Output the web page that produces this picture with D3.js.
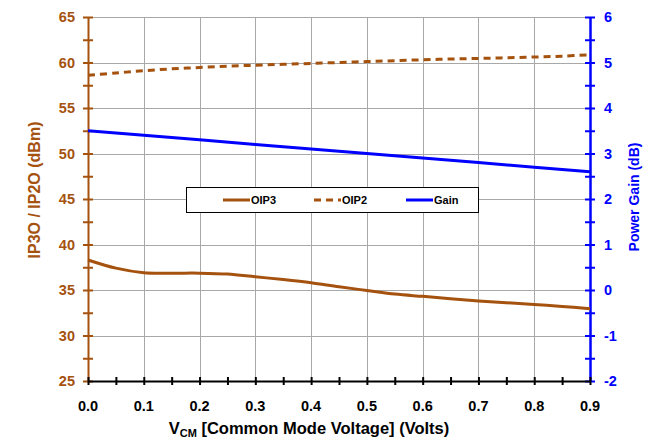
<!DOCTYPE html>
<html><head><meta charset="utf-8">
<script src="https://cdn.jsdelivr.net/npm/d3@7"></script>
<style>body{margin:0;background:#fff}svg{display:block;font-family:"Liberation Sans",Arial,sans-serif;font-weight:bold}</style>
</head><body><svg id="c" width="658" height="440"></svg>
<script>
const vcm = [0, 0.05, 0.1, 0.15, 0.2, 0.25, 0.3, 0.35, 0.4, 0.45, 0.5, 0.55, 0.6, 0.65, 0.7, 0.75, 0.8, 0.85, 0.9];
const oip3 = [38.3, 37.4, 36.9, 36.85, 36.85, 36.75, 36.45, 36.15, 35.8, 35.35, 34.95, 34.55, 34.3, 34.05, 33.8, 33.6, 33.4, 33.2, 32.95];
const oip2 = [58.6, 58.85, 59.1, 59.3, 59.45, 59.6, 59.7, 59.8, 59.9, 60.0, 60.1, 60.2, 60.3, 60.38, 60.45, 60.52, 60.6, 60.7, 60.85];
const gainX = [0, 0.1, 0.2, 0.3, 0.4, 0.5, 0.6, 0.7, 0.8, 0.9];
const gain = [3.5, 3.4, 3.3, 3.2, 3.1, 3.0, 2.9, 2.8, 2.7, 2.6];
const xTicks = [0, 0.1, 0.2, 0.3, 0.4, 0.5, 0.6, 0.7, 0.8, 0.9];
const leftTicks = [25, 30, 35, 40, 45, 50, 55, 60, 65];
const rightTicks = [-2, -1, 0, 1, 2, 3, 4, 5, 6];
const legendLabels = ["OIP3", "OIP2", "Gain"];

const brown = "#A5520F", blue = "#0000FF";
const L = 88, R = 590, T = 17, B = 381;
const svg = d3.select("#c");
const x = d3.scaleLinear().domain([0, 0.9]).range([L, R]);
const yL = d3.scaleLinear().domain([25, 65]).range([B, T]);
const yR = d3.scaleLinear().domain([-2, 6]).range([B, T]);

// grid
const g = svg.append("g");
g.selectAll(".vg").data(xTicks.slice(1, -1)).join("line")
  .attr("x1", d => Math.round(x(d)) + 0.5).attr("x2", d => Math.round(x(d)) + 0.5)
  .attr("y1", T).attr("y2", B).attr("stroke", "#a8a8a8").attr("stroke-width", 1);
g.selectAll(".hg").data(leftTicks.slice(1)).join("line")
  .attr("y1", d => Math.round(yL(d)) + 0.5).attr("y2", d => Math.round(yL(d)) + 0.5)
  .attr("x1", L).attr("x2", R).attr("stroke", "#a8a8a8").attr("stroke-width", 1);

// axes
const axL = d3.axisLeft(yL).tickValues(d3.range(25, 65.01, 2.5)).tickSize(0).tickFormat("");
const gl = svg.append("g").attr("transform", `translate(${L},0)`).call(axL);
gl.select(".domain").attr("stroke", brown).attr("stroke-width", 2);
gl.selectAll(".tick line").attr("x1", -5).attr("x2", 5).attr("stroke", brown).attr("stroke-width", 2);
svg.append("g").selectAll("text").data(leftTicks).join("text")
  .attr("x", 75).attr("y", d => yL(d) + 5).attr("text-anchor", "end")
  .attr("fill", brown).attr("font-size", 14.5).text(d => d);

const axR = d3.axisRight(yR).tickValues(d3.range(-2, 6.01, 0.5)).tickSize(0).tickFormat("");
const gr = svg.append("g").attr("transform", `translate(${R},0)`).call(axR);
gr.select(".domain").attr("stroke", blue).attr("stroke-width", 2.5);
gr.selectAll(".tick line").attr("x1", -5).attr("x2", 5).attr("stroke", blue).attr("stroke-width", 2);
svg.append("g").selectAll("text").data(rightTicks).join("text")
  .attr("x", 604).attr("y", d => yR(d) + 5).attr("text-anchor", "start")
  .attr("fill", blue).attr("font-size", 14.5).text(d => d);

const axB = d3.axisBottom(x).tickValues(d3.range(0, 0.901, 0.05)).tickSize(0).tickFormat("");
const gb = svg.append("g").attr("transform", `translate(0,${B})`).call(axB);
gb.select(".domain").attr("stroke", "#000").attr("stroke-width", 2);
gb.selectAll(".tick line").attr("y1", -4).attr("y2", 4).attr("stroke", "#000").attr("stroke-width", 2);
svg.append("g").selectAll("text").data(xTicks).join("text")
  .attr("x", d => x(d)).attr("y", 411).attr("text-anchor", "middle")
  .attr("fill", "#000").attr("font-size", 14.5).text(d => d.toFixed(1));

// lines
const lineL = d3.line().x((d, i) => x(vcm[i])).y(d => yL(d)).curve(d3.curveCatmullRom);
svg.append("path").attr("d", lineL(oip3)).attr("fill", "none").attr("stroke", brown).attr("stroke-width", 3);
svg.append("path").attr("d", lineL(oip2)).attr("fill", "none").attr("stroke", brown).attr("stroke-width", 3).attr("stroke-dasharray", "7,5");
const lineG = d3.line().x((d, i) => x(gainX[i])).y(d => yR(d));
svg.append("path").attr("d", lineG(gain)).attr("fill", "none").attr("stroke", blue).attr("stroke-width", 3);

// legend
svg.append("rect").attr("x", 186.5).attr("y", 187.5).attr("width", 292).attr("height", 25)
  .attr("fill", "#fff").attr("stroke", "#000").attr("stroke-width", 1);
const lx = [223, 314, 406];
const styles = [{c: brown, d: null}, {c: brown, d: "7,5"}, {c: blue, d: null}];
legendLabels.forEach((t, i) => {
  svg.append("line").attr("x1", lx[i]).attr("x2", lx[i] + 27).attr("y1", 200).attr("y2", 200)
    .attr("stroke", styles[i].c).attr("stroke-width", 3).attr("stroke-dasharray", styles[i].d);
  svg.append("text").attr("x", lx[i] + 28).attr("y", 204).attr("font-size", 11).attr("fill", "#000").text(t);
});

// titles
svg.append("text").attr("transform", "translate(40,190) rotate(-90)").attr("text-anchor", "middle")
  .attr("fill", brown).attr("font-size", 16).text("IP3O / IP2O (dBm)");
svg.append("text").attr("transform", "translate(639,197) rotate(-90)").attr("text-anchor", "middle")
  .attr("fill", blue).attr("font-size", 14).text("Power Gain (dB)");
const xt = svg.append("text").attr("x", 309).attr("y", 434).attr("text-anchor", "middle")
  .attr("fill", "#000").attr("font-size", 16.5);
xt.append("tspan").text("V");
xt.append("tspan").attr("font-size", 11).attr("dy", 3).text("CM");
xt.append("tspan").attr("dy", -3).text(" [Common Mode Voltage] (Volts)");
</script></body></html>
